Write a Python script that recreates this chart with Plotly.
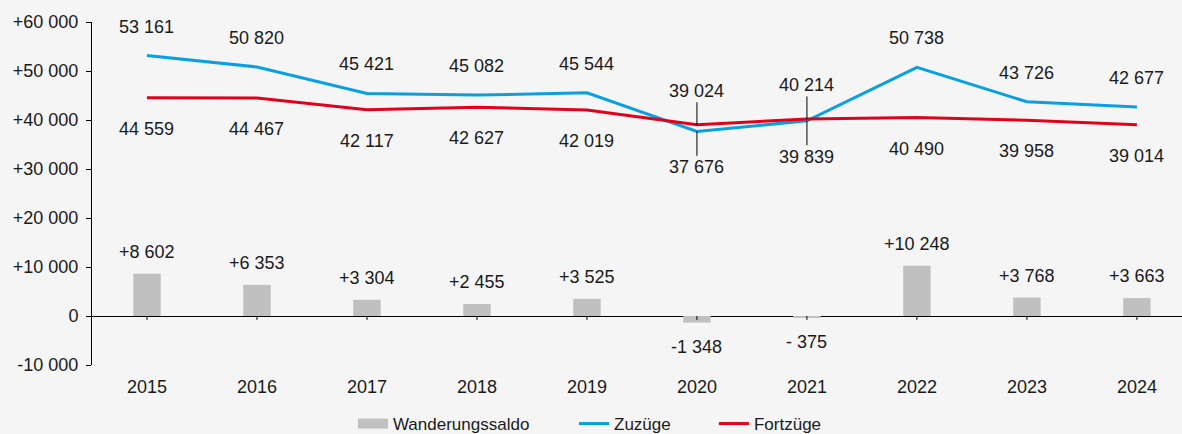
import plotly.graph_objects as go

years = [2015, 2016, 2017, 2018, 2019, 2020, 2021, 2022, 2023, 2024]
zuzuege = [53161, 50820, 45421, 45082, 45544, 37676, 39839, 50738, 43726, 42677]
fortzuege = [44559, 44467, 42117, 42627, 42019, 39024, 40214, 40490, 39958, 39014]
saldo = [8602, 6353, 3304, 2455, 3525, -1348, -375, 10248, 3768, 3663]
y_ticks = [-10000, 0, 10000, 20000, 30000, 40000, 50000, 60000]
y_tick_labels = ["-10 000", "0", "+10 000", "+20 000", "+30 000", "+40 000", "+50 000", "+60 000"]

BG = "#f5f5f5"
BLUE = "#0aa0df"
RED = "#e3001b"
GRAY = "#c0c0c0"
FONT = "Liberation Sans, Arial, sans-serif"
FS = 18


def fmt(v):
    return f"{v:,}".replace(",", " ")


def fmt_signed(v):
    if v >= 0:
        return "+" + fmt(v)
    a = abs(v)
    return "-" + (" " if a < 1000 else "") + fmt(a)


fig = go.Figure()
fig.add_trace(go.Bar(x=years, y=saldo, name="Wanderungssaldo", marker_color=GRAY,
                     width=0.25, marker_line_width=0, showlegend=False))
# legend-only entry drawn as a wide gray swatch
fig.add_trace(go.Scatter(x=[None], y=[None], name="Wanderungssaldo", mode="lines",
                         line=dict(color=GRAY, width=10), legend="legend"))
fig.add_trace(go.Scatter(x=years, y=zuzuege, name="Zuzüge", mode="lines",
                         line=dict(color=BLUE, width=3), legend="legend2"))
fig.add_trace(go.Scatter(x=years, y=fortzuege, name="Fortzüge", mode="lines",
                         line=dict(color=RED, width=3), legend="legend3"))

tf = dict(family=FONT, size=FS, color="#1a1a1a")
for i, y in enumerate(years):
    z, f, s = zuzuege[i], fortzuege[i], saldo[i]
    if z >= f:
        fig.add_annotation(x=y, y=z, text=fmt(z), showarrow=False, yshift=29, font=tf)
        fig.add_annotation(x=y, y=f, text=fmt(f), showarrow=False, yshift=-31, font=tf)
    else:
        fig.add_annotation(x=y, y=f, text=fmt(f), showarrow=True, arrowhead=0,
                           arrowwidth=1, arrowcolor="black", ax=0, ay=-34, font=tf)
        fig.add_annotation(x=y, y=z, text=fmt(z), showarrow=True, arrowhead=0,
                           arrowwidth=1, arrowcolor="black", ax=0, ay=36, font=tf)
    if s >= 0:
        fig.add_annotation(x=y, y=s, text=fmt_signed(s), showarrow=False, yshift=22, font=tf)
    else:
        fig.add_annotation(x=y, y=s, text=fmt_signed(s), showarrow=False, yshift=-24, font=tf)

for y in years:
    fig.add_shape(type="line", xref="x", yref="y", x0=y, x1=y, y0=0, y1=-800,
                  line=dict(color="black", width=1))

leg_common = dict(orientation="h", xanchor="left", y=-0.172, yanchor="middle",
                  font=dict(size=17, family=FONT, color="#1a1a1a"),
                  bgcolor="rgba(0,0,0,0)", borderwidth=0)

fig.update_layout(
    width=1182, height=434,
    paper_bgcolor=BG, plot_bgcolor=BG,
    margin=dict(l=92, r=0, t=22, b=69, autoexpand=False),
    font=dict(family=FONT, size=FS, color="#1a1a1a"),
    showlegend=True,
    legend=dict(x=0.2394, **leg_common),
    legend2=dict(x=0.4422, **leg_common),
    legend3=dict(x=0.5706, **leg_common),
    xaxis=dict(range=[2014.5, 2024.41], tickvals=years, ticktext=[str(y) for y in years],
               showgrid=False, showline=False, zeroline=False,
               ticks="outside", ticklen=5, tickcolor=BG, tickfont=dict(size=FS)),
    yaxis=dict(range=[-10000, 60000], tickvals=y_ticks, ticktext=y_tick_labels,
               showgrid=False, showline=True, linecolor="black", linewidth=1,
               ticks="outside", ticklen=5, tickcolor="black", ticklabelstandoff=4,
               zeroline=True, zerolinecolor="black", zerolinewidth=1,
               tickfont=dict(size=FS)),
)

fig.write_html("out.html", config={"displayModeBar": False},
               post_script="document.body.style.margin='0';document.body.style.overflow='hidden';")
